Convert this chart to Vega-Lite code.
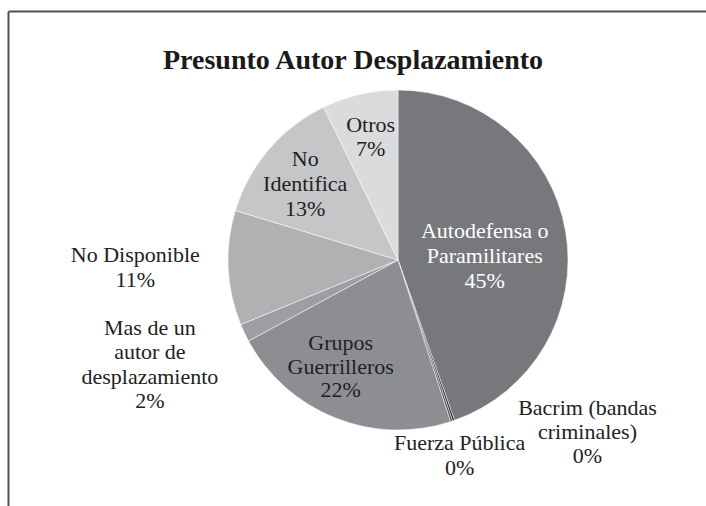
{
  "$schema": "https://vega.github.io/schema/vega-lite/v6.json",
  "autosize": "none",
  "width": 698,
  "height": 495,
  "padding": {"left": 8, "top": 11, "right": 0, "bottom": 0},
  "background": "white",
  "title": {
    "text": "Presunto Autor Desplazamiento",
    "font": "Liberation Serif",
    "fontSize": 28,
    "fontWeight": "bold",
    "color": "#1a1a1a",
    "anchor": "middle",
    "frame": "group",
    "orient": "top",
    "offset": -96,
    "dx": -4,
    "dy": 38
  },
  "config": {"view": {"stroke": null}},
  "data": {
    "values": [
      {"k": 1, "name": "Autodefensa o Paramilitares", "value": 44.6, "label": ["Autodefensa o", "Paramilitares", "45%"]},
      {"k": 2, "name": "Bacrim (bandas criminales)", "value": 0.2, "label": ["Bacrim (bandas", "criminales)", "0%"]},
      {"k": 3, "name": "Fuerza Pública", "value": 0.2, "label": ["Fuerza Pública", "0%"]},
      {"k": 4, "name": "Grupos Guerrilleros", "value": 22.1, "label": ["Grupos", "Guerrilleros", "22%"]},
      {"k": 5, "name": "Mas de un autor de desplazamiento", "value": 1.7, "label": ["Mas de un", "autor de", "desplazamiento", "2%"]},
      {"k": 6, "name": "No Disponible", "value": 10.9, "label": ["No Disponible", "11%"]},
      {"k": 7, "name": "No Identifica", "value": 13.1, "label": ["No", "Identifica", "13%"]},
      {"k": 8, "name": "Otros", "value": 7.2, "label": ["Otros", "7%"]}
    ]
  },
  "layer": [
    {
      "mark": {"type": "point", "opacity": 0},
      "encoding": {
        "x": {"datum": 0, "type": "quantitative", "scale": {"domain": [0, 1]},
              "axis": {"orient": "top", "domain": true, "domainColor": "#505050", "domainWidth": 2, "ticks": false, "labels": false, "grid": false, "title": null}},
        "y": {"datum": 0, "type": "quantitative", "scale": {"domain": [0, 1]},
              "axis": {"orient": "left", "domain": true, "domainColor": "#505050", "domainWidth": 2, "ticks": false, "labels": false, "grid": false, "title": null}}
      }
    },
    {
      "mark": {"type": "arc", "outerRadius": 170, "stroke": "white", "strokeWidth": 0.5,
               "x": {"expr": "width/2 + 41"}, "y": {"expr": "height/2 + 1.5"}},
      "encoding": {
        "theta": {"field": "value", "type": "quantitative", "stack": true},
        "order": {"field": "k", "type": "quantitative"},
        "color": {"field": "name", "type": "nominal", "legend": null,
                  "scale": {"domain": ["Autodefensa o Paramilitares", "Bacrim (bandas criminales)", "Fuerza Pública", "Grupos Guerrilleros", "Mas de un autor de desplazamiento", "No Disponible", "No Identifica", "Otros"],
                            "range": ["#77787c", "#2e2e2e", "#4d4d4d", "#8d8e91", "#9d9ea1", "#b0b1b3", "#c5c6c8", "#dadbdd"]}}
      }
    },
    {
      "mark": {"type": "text", "radius": 88, "dy": -14, "fill": "white", "font": "Liberation Serif", "fontSize": 22, "lineHeight": 25, "align": "center", "baseline": "middle",
               "x": {"expr": "width/2 + 41"}, "y": {"expr": "height/2 + 1.5"}},
      "encoding": {
        "theta": {"field": "value", "type": "quantitative", "stack": true},
        "order": {"field": "k", "type": "quantitative"},
        "text": {"condition": {"test": "datum.k === 1", "field": "label"}, "value": ""}
      }
    },
    {
      "mark": {"type": "text", "radius": 122, "dx": -12, "dy": -30, "fill": "#222222", "font": "Liberation Serif", "fontSize": 22, "lineHeight": 23.5, "align": "center", "baseline": "middle",
               "x": {"expr": "width/2 + 41"}, "y": {"expr": "height/2 + 1.5"}},
      "encoding": {
        "theta": {"field": "value", "type": "quantitative", "stack": true},
        "order": {"field": "k", "type": "quantitative"},
        "text": {"condition": {"test": "datum.k === 4", "field": "label"}, "value": ""}
      }
    },
    {
      "mark": {"type": "text", "radius": 122, "dy": -22, "fill": "#222222", "font": "Liberation Serif", "fontSize": 22, "lineHeight": 25, "align": "center", "baseline": "middle",
               "x": {"expr": "width/2 + 41"}, "y": {"expr": "height/2 + 1.5"}},
      "encoding": {
        "theta": {"field": "value", "type": "quantitative", "stack": true},
        "order": {"field": "k", "type": "quantitative"},
        "text": {"condition": {"test": "datum.k === 7", "field": "label"}, "value": ""}
      }
    },
    {
      "mark": {"type": "text", "radius": 122, "dy": -16, "fill": "#222222", "font": "Liberation Serif", "fontSize": 22, "lineHeight": 24, "align": "center", "baseline": "middle",
               "x": {"expr": "width/2 + 41"}, "y": {"expr": "height/2 + 1.5"}},
      "encoding": {
        "theta": {"field": "value", "type": "quantitative", "stack": true},
        "order": {"field": "k", "type": "quantitative"},
        "text": {"condition": {"test": "datum.k === 8", "field": "label"}, "value": ""}
      }
    },
    {
      "mark": {"type": "text", "radius": 268, "dx": -6, "dy": -47, "fill": "#222222", "font": "Liberation Serif", "fontSize": 22, "lineHeight": 24.5, "align": "center", "baseline": "middle",
               "x": {"expr": "width/2 + 41"}, "y": {"expr": "height/2 + 1.5"}},
      "encoding": {
        "theta": {"field": "value", "type": "quantitative", "stack": true},
        "order": {"field": "k", "type": "quantitative"},
        "text": {"condition": {"test": "datum.k === 5", "field": "label"}, "value": ""}
      }
    },
    {
      "mark": {"type": "text", "radius": 263, "dy": -17, "fill": "#222222", "font": "Liberation Serif", "fontSize": 22, "lineHeight": 25, "align": "center", "baseline": "middle",
               "x": {"expr": "width/2 + 41"}, "y": {"expr": "height/2 + 1.5"}},
      "encoding": {
        "theta": {"field": "value", "type": "quantitative", "stack": true},
        "order": {"field": "k", "type": "quantitative"},
        "text": {"condition": {"test": "datum.k === 6", "field": "label"}, "value": ""}
      }
    },
    {
      "mark": {"type": "text", "radius": 205, "dx": -3, "dy": -12, "fill": "#222222", "font": "Liberation Serif", "fontSize": 22, "lineHeight": 25, "align": "center", "baseline": "middle",
               "x": {"expr": "width/2 + 41"}, "y": {"expr": "height/2 + 1.5"}},
      "encoding": {
        "theta": {"field": "value", "type": "quantitative", "stack": true},
        "order": {"field": "k", "type": "quantitative"},
        "text": {"condition": {"test": "datum.k === 3", "field": "label"}, "value": ""}
      }
    },
    {
      "mark": {"type": "text", "radius": 182, "dx": 130, "dy": -24, "fill": "#222222", "font": "Liberation Serif", "fontSize": 22, "lineHeight": 24, "align": "center", "baseline": "middle",
               "x": {"expr": "width/2 + 41"}, "y": {"expr": "height/2 + 1.5"}},
      "encoding": {
        "theta": {"field": "value", "type": "quantitative", "stack": true},
        "order": {"field": "k", "type": "quantitative"},
        "text": {"condition": {"test": "datum.k === 2", "field": "label"}, "value": ""}
      }
    }
  ]
}
